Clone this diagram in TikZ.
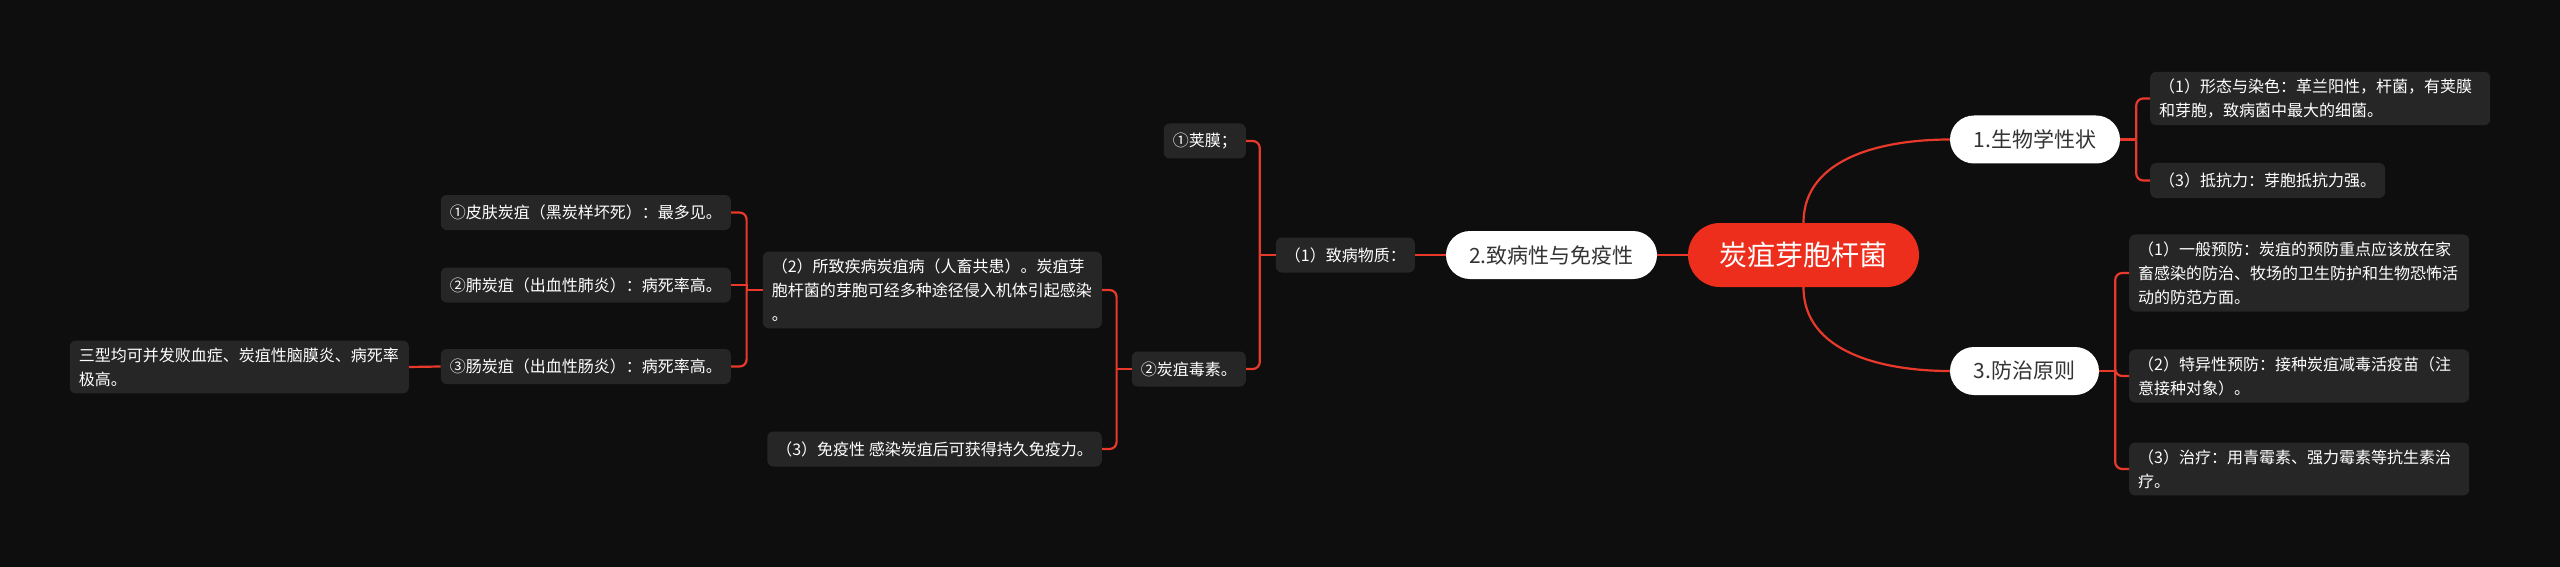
\documentclass[tikz,border=0pt]{standalone}
\usepackage{fontspec}
\newfontfamily\cjk{Noto Sans CJK SC}
\usepackage{tikz}
\usetikzlibrary{positioning}
\definecolor{bgdark}{HTML}{0E0E0E}
\definecolor{boxgray}{HTML}{262626}
\definecolor{linkred}{HTML}{E8392B}
\definecolor{rootred}{HTML}{EE2E1C}
\definecolor{pilltext}{HTML}{333333}

\begin{document}
\begin{tikzpicture}[
x=1pt, y=-1pt,
root/.style={fill=rootred, rounded corners=32pt, minimum width=231pt, minimum height=64pt, text=white, font=\cjk\fontsize{28}{34}\selectfont},
branch/.style={fill=white, rounded corners=24pt, minimum height=48pt, text=pilltext, font=\cjk\fontsize{21}{26}\selectfont},
leaf/.style={fill=boxgray, rounded corners=6pt, minimum height=35pt, inner xsep=9pt, inner ysep=7pt, text=white, align=left, font=\cjk\fontsize{16}{24}\selectfont},
link/.style={draw=linkred, line width=2.2pt},
elbow/.style={link, rounded corners=7pt}
]
\useasboundingbox (0,0) rectangle (2560,567);
\fill[bgdark] (0,0) rectangle (2560,567);

% centre and main branches
\node[root] (anthrax) at (1803.5,255) {炭疽芽胞杆菌};
\node[branch, minimum width=170pt] (bio) at (2035,139.5) {1.生物学性状};
\node[branch, minimum width=149pt] (ctrl) at (2024.5,371) {3.防治原则};
\node[branch, minimum width=211pt] (path) at (1551.5,255) {2.致病性与免疫性};

% 1. right top
\node[leaf, anchor=west, text width=322pt] (shape) at (2150,98.5) {（1）形态与染色：革兰阳性，杆菌，有荚膜\\和芽胞，致病菌中最大的细菌。};
\node[leaf, anchor=west] (resist) at (2150,180.5) {（3）抵抗力：芽胞抵抗力强。};

% 3. right bottom
\node[leaf, anchor=west, text width=322pt] (general) at (2129,273) {（1）一般预防：炭疽的预防重点应该放在家\\畜感染的防治、牧场的卫生防护和生物恐怖活\\动的防范方面。};
\node[leaf, anchor=west, text width=322pt] (vaccine) at (2129,376) {（2）特异性预防：接种炭疽减毒活疫苗（注\\意接种对象）。};
\node[leaf, anchor=west, text width=322pt] (therapy) at (2129,469) {（3）治疗：用青霉素、强力霉素等抗生素治\\疗。};

% 2. left side
\node[leaf, anchor=east] (cause) at (1415,255) {（1）致病物质：};
\node[leaf, anchor=east] (capsule) at (1246,141) {①荚膜；};
\node[leaf, anchor=east] (toxin) at (1246,369) {②炭疽毒素。};
\node[leaf, anchor=east, text width=321pt] (disease) at (1102,290) {（2）所致疾病炭疽病（人畜共患）。炭疽芽\\胞杆菌的芽胞可经多种途径侵入机体引起感染\\。};
\node[leaf, anchor=east] (immune) at (1102,449) {（3）免疫性 感染炭疽后可获得持久免疫力。};
\node[leaf, anchor=east] (skin) at (731,212.5) {①皮肤炭疽（黑炭样坏死）：最多见。};
\node[leaf, anchor=east] (lung) at (731,285) {②肺炭疽（出血性肺炎）：病死率高。};
\node[leaf, anchor=east] (gut) at (731,366.5) {③肠炭疽（出血性肠炎）：病死率高。};
\node[leaf, anchor=east, text width=321pt] (sepsis) at (409,367) {三型均可并发败血症、炭疽性脑膜炎、病死率\\极高。};

% junctions
\coordinate[right=16pt of bio] (jbio);
\coordinate[right=16pt of ctrl] (jctrl);
\coordinate[left=16pt of cause] (jcause);
\coordinate[left=15pt of toxin] (jtoxin);
\coordinate[left=16pt of disease] (jdis);

% connectors
\draw[link] (anthrax.north) to[out=90, in=180] (bio.west);
\draw[link] (anthrax.south) to[out=-90, in=180] (ctrl.west);
\draw[link] (anthrax.west) -- (path.east);

\draw[link] (bio.east) -- (jbio);
\draw[elbow] (jbio) |- (shape.west);
\draw[elbow] (jbio) |- (resist.west);

\draw[link] (ctrl.east) -- (jctrl);
\draw[elbow] (jctrl) |- (general.west);
\draw[elbow] (jctrl) |- (vaccine.west);
\draw[elbow] (jctrl) |- (therapy.west);

\draw[link] (path.west) -- (cause.east);
\draw[link] (cause.west) -- (jcause);
\draw[elbow] (jcause) |- (capsule.east);
\draw[elbow] (jcause) |- (toxin.east);

\draw[link] (toxin.west) -- (jtoxin);
\draw[elbow] (jtoxin) |- (disease.east);
\draw[elbow] (jtoxin) |- (immune.east);

\draw[link] (disease.west) -- (jdis);
\draw[elbow] (jdis) |- (skin.east);
\draw[link] (jdis) |- (lung.east);
\draw[elbow] (jdis) |- (gut.east);

\draw[link] (gut.west) -- (sepsis.east);
\end{tikzpicture}
\end{document}
